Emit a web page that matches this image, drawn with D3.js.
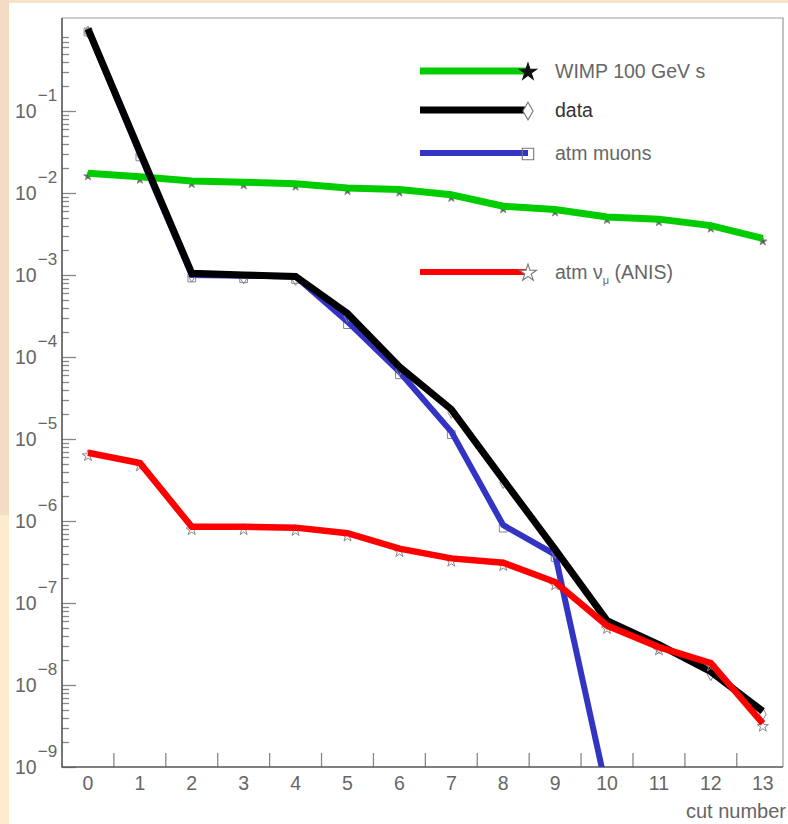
<!DOCTYPE html>
<meta charset="utf-8">
<style>
body { margin: 0; background: #fff; }
svg { display: block; font-family: "Liberation Sans", Arial, sans-serif; }
.lab { fill: #666; }
</style>
<body>
<script src="https://cdn.jsdelivr.net/npm/d3@7"></script>
<script>
// cut numbers and the four curves
var cuts = [0, 1, 2, 3, 4, 5, 6, 7, 8, 9, 10, 11, 12, 13];
var wimp  = [1.74e-2, 1.58e-2, 1.4e-2, 1.35e-2, 1.3e-2, 1.15e-2, 1.1e-2, 9.5e-3, 6.9e-3, 6.3e-3, 5.1e-3, 4.8e-3, 4.0e-3, 2.8e-3];
var data  = [1.0, 3.2e-2, 1.05e-3, 1.0e-3, 9.6e-4, 3.4e-4, 7.6e-5, 2.3e-5, 3.2e-6, 4.5e-7, 6.1e-8, 3.1e-8, 1.45e-8, 4.8e-9];
var muons = [1.0, 3.0e-2, 1.0e-3, 9.8e-4, 9.6e-4, 2.7e-4, 6.6e-5, 1.23e-5, 8.9e-7, 3.9e-7, 5e-10];
var anis  = [6.8e-6, 5.1e-6, 8.5e-7, 8.5e-7, 8.3e-7, 7.1e-7, 4.6e-7, 3.5e-7, 3.1e-7, 1.8e-7, 5.3e-8, 2.9e-8, 1.85e-8, 3.4e-9];
var decades = [-9, -8, -7, -6, -5, -4, -3, -2, -1];
var legendNames = ["WIMP 100 GeV s", "data", "atm muons", "atm \u03bd"];

var W = 788, H = 824;
var pL = 62, pR = 783, pT = 18, pB = 767;

var svg = d3.select("body").append("svg")
  .attr("width", W).attr("height", H);

// beige page border
svg.append("rect").attr("x", 0).attr("y", 0).attr("width", W).attr("height", 3).attr("fill", "#f6e3cb");
svg.append("rect").attr("x", 0).attr("y", 0).attr("width", 9).attr("height", 515).attr("fill", "#f3dcc3");
svg.append("rect").attr("x", 0).attr("y", 515).attr("width", 9).attr("height", H - 515).attr("fill", "#fdebd0");

var x = d3.scaleLinear().domain([-0.5, 13.39]).range([pL, pR]);
var y = d3.scaleLog().domain([1e-9, Math.pow(10, 0.134)]).range([pB, pT]);

// frame
svg.append("path")
  .attr("d", "M" + pL + "," + pT + "H" + pR + "V" + pB)
  .attr("fill", "none").attr("stroke", "#999").attr("stroke-width", 1.2);

// y ticks (inside)
var yticks = [];
decades.forEach(function(e) {
  for (var m = 1; m <= 9; m++) yticks.push({v: m * Math.pow(10, e), major: m == 1});
});
yticks = yticks.filter(function(t) { return t.v < 0.85; });
svg.append("g").selectAll("line").data(yticks).enter().append("line")
  .attr("x1", pL).attr("x2", function(d) { return pL + (d.major ? 14 : 7); })
  .attr("y1", function(d) { return Math.round(y(d.v)) + 0.5; })
  .attr("y2", function(d) { return Math.round(y(d.v)) + 0.5; })
  .attr("stroke", "#888").attr("stroke-width", 1.3);

var ylab = svg.append("g").selectAll("text").data(decades).enter().append("text")
  .attr("class", "lab")
  .attr("x", 15).attr("y", function(d) { return y(Math.pow(10, d)) + 7; })
  .style("font-size", "19.5px");
ylab.append("tspan").text("10");
ylab.append("tspan").attr("dy", -17).attr("dx", 1).style("font-size", "17px")
  .text(function(d) { return "\u2212" + (-d); });

// x axis ticks between cuts
svg.append("g").selectAll("line").data(cuts.slice(0, 13)).enter().append("line")
  .attr("x1", function(d) { return x(d + 0.5); }).attr("x2", function(d) { return x(d + 0.5); })
  .attr("y1", pB).attr("y2", pB - 14)
  .attr("stroke", "#888").attr("stroke-width", 1.3);

svg.append("g").selectAll("text").data(cuts).enter().append("text")
  .attr("class", "lab")
  .attr("x", function(d) { return x(d); }).attr("y", 790)
  .attr("text-anchor", "middle").style("font-size", "19.5px")
  .text(function(d) { return d; });

svg.append("text").attr("class", "lab")
  .attr("x", 786).attr("y", 818).attr("text-anchor", "end")
  .style("font-size", "20px").text("cut number");

// axis lines
svg.append("path")
  .attr("d", "M" + pL + "," + pT + "V" + pB + "H" + pR)
  .attr("fill", "none").attr("stroke", "#555").attr("stroke-width", 1.6);

// curves
svg.append("clipPath").attr("id", "plot").append("rect")
  .attr("x", pL).attr("y", pT).attr("width", pR - pL).attr("height", pB - pT);

var line = d3.line()
  .x(function(d, i) { return x(cuts[i]); })
  .y(function(d) { return y(d); });

var series = [
  {vals: wimp, color: "#00cc00", w: 7, sym: d3.symbolStar, fill: "#555", size: 22},
  {vals: muons, color: "#3333c4", w: 6, sym: d3.symbolSquare, fill: "none", size: 60},
  {vals: data, color: "#000", w: 7, sym: d3.symbolDiamond, fill: "none", size: 40},
  {vals: anis, color: "#ff0000", w: 6.5, sym: d3.symbolStar, fill: "none", size: 40}
];

var plot = svg.append("g").attr("clip-path", "url(#plot)");
series.forEach(function(s) {
  plot.append("g").selectAll("path").data(s.vals).enter().append("path")
    .attr("transform", function(d, i) { return "translate(" + x(cuts[i]) + "," + (y(d) + 3) + ")"; })
    .attr("d", d3.symbol().type(s.sym).size(s.size))
    .attr("fill", s.fill).attr("stroke", "#888").attr("stroke-width", 1);
  plot.append("path").datum(s.vals)
    .attr("d", line)
    .attr("fill", "none").attr("stroke", s.color)
    .attr("stroke-width", s.w).attr("stroke-linejoin", "miter");
});

// legend
var legend = [
  {name: legendNames[0], color: "#00cc00", y: 71, sym: d3.symbolStar, fill: "#111", w: 7, size: 90},
  {name: legendNames[1], color: "#000", y: 110, sym: d3.symbolDiamond, fill: "#fff", w: 7, size: 90},
  {name: legendNames[2], color: "#3333c4", y: 153, sym: d3.symbolSquare, fill: "none", w: 6, size: 130},
  {name: legendNames[3], color: "#ff0000", y: 272, sym: d3.symbolStar, fill: "#fff", w: 6, size: 90}
];
var lg = svg.append("g").selectAll("g").data(legend).enter().append("g");
lg.append("line")
  .attr("x1", 420).attr("x2", 528)
  .attr("y1", function(d) { return d.y; }).attr("y2", function(d) { return d.y; })
  .attr("stroke", function(d) { return d.color; })
  .attr("stroke-width", function(d) { return d.w; });
lg.append("path")
  .attr("transform", function(d) { return "translate(528," + (d.y + 1) + ")"; })
  .attr("d", function(d) { return d3.symbol().type(d.sym).size(d.size)(); })
  .attr("fill", function(d) { return d.fill; })
  .attr("stroke", function(d) { return d.fill == "#111" ? "#111" : "#777"; })
  .attr("stroke-width", 1.1);
var lt = lg.append("text").attr("class", "lab")
  .attr("x", 555).attr("y", function(d) { return d.y + 7; })
  .style("font-size", "19.5px")
  .style("fill", function(d, i) { return i == 1 ? "#333" : "#666"; })
  .text(function(d) { return d.name; });
lt.filter(function(d, i) { return i == 3; }).append("tspan")
  .attr("dy", 5).style("font-size", "11px").text("\u03bc");
lt.filter(function(d, i) { return i == 3; }).append("tspan")
  .attr("dy", -5).text(" (ANIS)");
</script>
</body>
